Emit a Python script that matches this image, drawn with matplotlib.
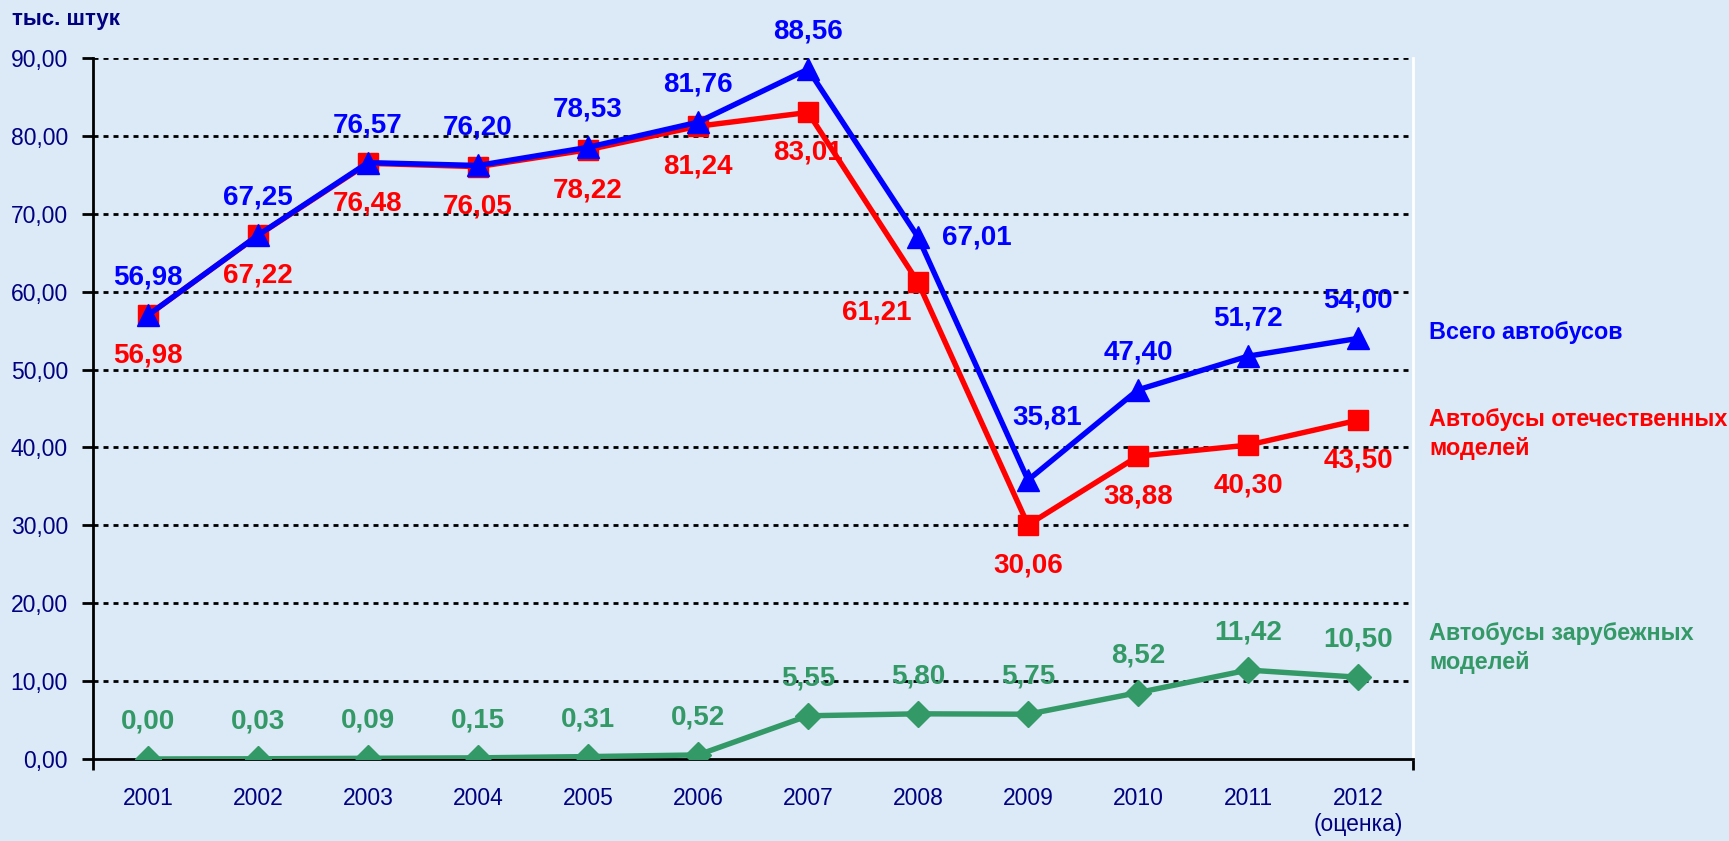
import matplotlib
matplotlib.use('Agg')
import matplotlib.pyplot as plt
import numpy as np

plt.rcParams['font.family'] = ['Liberation Sans', 'DejaVu Sans']

years = ['2001', '2002', '2003', '2004', '2005', '2006', '2007', '2008',
         '2009', '2010', '2011', '2012\n(оценка)']
total = [56.98, 67.25, 76.57, 76.20, 78.53, 81.76, 88.56, 67.01, 35.81, 47.40, 51.72, 54.00]
domestic = [56.98, 67.22, 76.48, 76.05, 78.22, 81.24, 83.01, 61.21, 30.06, 38.88, 40.30, 43.50]
foreign = [0.00, 0.03, 0.09, 0.15, 0.31, 0.52, 5.55, 5.80, 5.75, 8.52, 11.42, 10.50]
yticks = np.arange(0, 91, 10)

navy = '#000080'
blue = '#0000ff'
red = '#ff0000'
green = '#339966'

W, H = 1729, 841
fig = plt.figure(figsize=(W / 100, H / 100), dpi=100)
fig.patch.set_facecolor('#dce9f6')
ax = fig.add_axes([93 / W, 82 / H, 1320 / W, 701 / H])
ax.set_facecolor('none')

x = np.arange(len(years))
ax.plot(x, foreign, color=green, lw=3.9, marker='D', ms=13.5, zorder=3)
ax.plot(x, domestic, color=red, lw=3.9, marker='s', ms=14, zorder=4)
ax.plot(x, total, color=blue, lw=3.9, marker='^', ms=15.5, zorder=5)

def fmt(v):
    return f'{v:.2f}'.replace('.', ',')

# label offsets in points (default and a few special ones)
blue_off = {7: (42, 0), 8: (14, 45)}
red_off = {7: (-30, -22)}
for i in x:
    dx, dy = blue_off.get(i, (0, 27))
    ax.annotate(fmt(total[i]), (i, total[i]), xytext=(dx, dy), textcoords='offset points',
                ha='center', va='center', color=blue, fontsize=20, fontweight='bold', zorder=6)
    dx, dy = red_off.get(i, (0, -29))
    ax.annotate(fmt(domestic[i]), (i, domestic[i]), xytext=(dx, dy), textcoords='offset points',
                ha='center', va='center', color=red, fontsize=20, fontweight='bold', zorder=6)
    ax.annotate(fmt(foreign[i]), (i, foreign[i]), xytext=(0, 27), textcoords='offset points',
                ha='center', va='center', color=green, fontsize=20, fontweight='bold', zorder=6)

ax.set_xlim(-0.5, len(years) - 0.5)
ax.set_ylim(0, 90)
ax.set_yticks(yticks)
ax.set_yticklabels([fmt(v) for v in yticks], color=navy, fontsize=16.5)
ax.set_xticks(x)
ax.set_xticklabels(years, color=navy, fontsize=16.5, linespacing=1.2)
ax.tick_params(axis='x', length=0, pad=20)
ax.tick_params(axis='y', length=8, width=2, pad=10, direction='out')
ax.set_xticks([-0.5, len(years) - 0.5], minor=True)
ax.tick_params(axis='x', which='minor', length=8, width=2, direction='out')

for v in yticks[1:]:
    ax.axhline(v, color='black', lw=2, ls=(0, (1.8, 1.8)), zorder=1)

ax.spines['left'].set_linewidth(2)
ax.spines['bottom'].set_linewidth(2)
ax.spines['right'].set_color('white')
ax.spines['right'].set_linewidth(2)
ax.spines['top'].set_visible(False)

fig.text(12 / W, 1 - 20 / H, 'тыс. штук', color=navy, fontsize=16, fontweight='bold',
         ha='left', va='center')

fig.text(1429 / W, 1 - 333 / H, 'Всего автобусов', color=blue, fontsize=16.8,
         fontweight='bold', ha='left', va='center')
fig.text(1429 / W, 1 - 434 / H, 'Автобусы отечественных\nмоделей', color=red, fontsize=16.8,
         fontweight='bold', ha='left', va='center', linespacing=1.3)
fig.text(1429 / W, 1 - 648 / H, 'Автобусы зарубежных\nмоделей', color=green, fontsize=16.8,
         fontweight='bold', ha='left', va='center', linespacing=1.3)

fig.savefig('out.png', dpi=100, facecolor=fig.get_facecolor())
